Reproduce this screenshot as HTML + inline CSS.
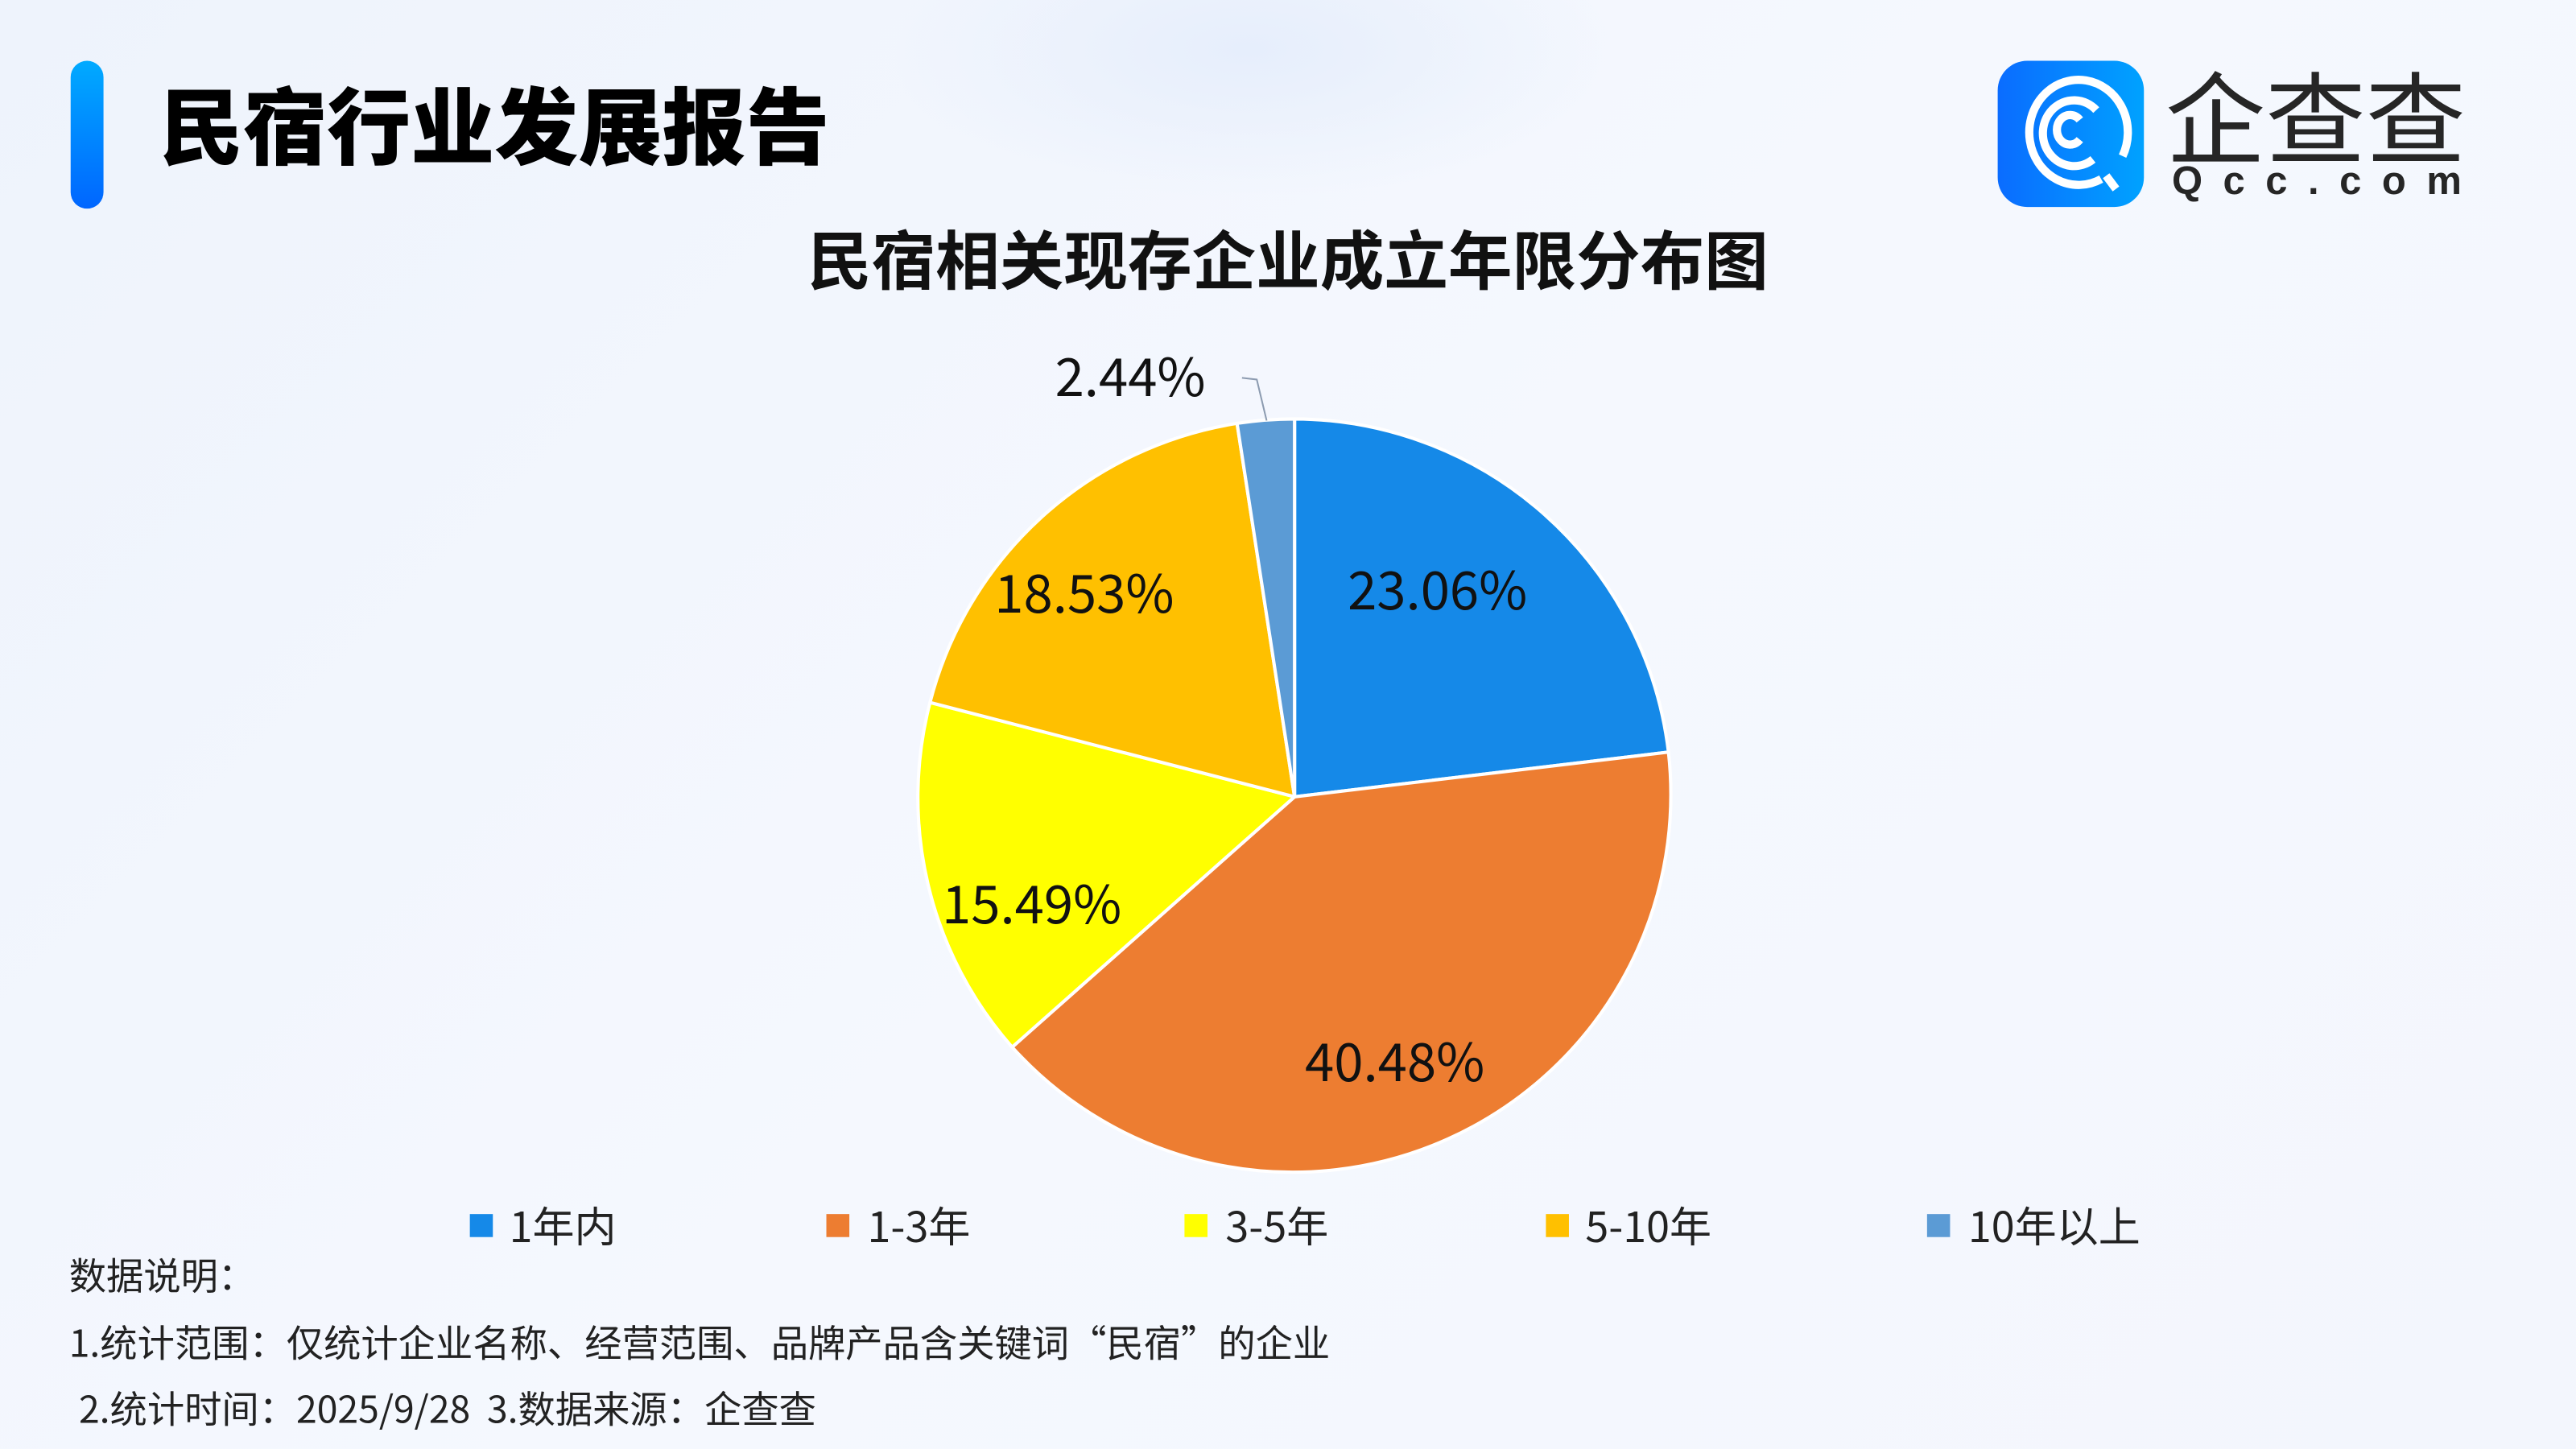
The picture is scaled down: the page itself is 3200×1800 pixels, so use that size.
<!DOCTYPE html>
<html><head><meta charset="utf-8"><style>
html,body{margin:0;padding:0;width:3200px;height:1800px;overflow:hidden;}
#w{position:absolute;left:0;top:0;width:1568px;height:882px;transform:scale(2.0408);transform-origin:0 0;
background:radial-gradient(ellipse 220px 90px at 760px 30px,#e6eefc 0%,rgba(230,238,252,0) 100%),linear-gradient(135deg,#eef3fc 0%,#f5f8fe 50%,#f3f6fd 100%);
font-family:"Noto Sans CJK SC","Liberation Sans",sans-serif;}
.a{position:absolute;white-space:nowrap;}
</style></head><body><div id="w">
<div class="a" style="left:43px;top:37px;width:20px;height:90px;border-radius:10px;background:linear-gradient(#00aaff,#0066ff);"></div>
<div class="a" style="left:97px;top:48px;font-size:51px;line-height:1.2;font-weight:900;color:#000;font-family:'Liberation Sans','Noto Sans CJK SC',sans-serif;">民宿行业发展报告</div>
<div class="a" style="left:1216px;top:37px;width:89px;height:89px;border-radius:18px;background:linear-gradient(90deg,#0a6cff,#00a2ff);"></div>
<svg class="a" style="left:1216px;top:37px" width="89" height="89" viewBox="0 0 89 89">
<g fill="none" stroke="#fff" stroke-width="5">
<path d="M63 72 A30 32 0 1 1 76 58"/>
<path d="M58 60 A19 20 0 1 1 60 30"/>
<path d="M50 48 A8 9 0 1 1 50 36"/>
<path d="M66 70 L72 78"/></g></svg>
<div class="a" style="left:1318px;top:37px;font-size:61px;line-height:64px;color:#262626;font-weight:400;">企查查</div>
<div class="a" style="left:1322px;top:98px;font-size:24px;line-height:26px;color:#262626;font-weight:700;letter-spacing:12.5px;font-family:'Liberation Sans',sans-serif;">Qcc.com</div>
<div class="a" style="left:0;width:1568px;top:132px;line-height:50px;text-align:center;font-size:39px;font-weight:700;color:#111;">民宿相关现存企业成立年限分布图</div>
<svg class="a" style="left:0;top:0" width="1568" height="882">
<g stroke="#fff" stroke-width="2" stroke-linejoin="round">
<path d="M788 485 L788 255 A230 230 0 0 1 1015.6 457.8 Z" fill="#1589e8"/>
<path d="M788 485 L1015.6 457.8 A230 230 0 0 1 616.1 637.4 Z" fill="#ed7d31"/>
<path d="M788 485 L616.1 637.4 A230 230 0 0 1 566.1 427.6 Z" fill="#ffff00"/>
<path d="M788 485 L566.1 427.6 A230 230 0 0 1 753.0 257.7 Z" fill="#ffc000"/>
<path d="M788 485 L753.0 257.7 A230 230 0 0 1 788 255 Z" fill="#5b9bd5"/>
</g>
<polyline points="756,230 765,231 771,256" fill="none" stroke="#8c9bb0" stroke-width="1"/>
<g font-family="Noto Sans CJK SC,Liberation Sans,sans-serif" font-size="32" fill="#111" text-anchor="middle">
<text x="875" y="371">23.06%</text>
<text x="849" y="658">40.48%</text>
<text x="628" y="562">15.49%</text>
<text x="660" y="373">18.53%</text>
<text x="688" y="241">2.44%</text>
</g>
<g font-family="Noto Sans CJK SC,Liberation Sans,sans-serif" font-size="25.5" fill="#222">
<rect x="286" y="739" width="14" height="14" fill="#1589e8"/><text x="310" y="756">1年内</text>
<rect x="503" y="739" width="14" height="14" fill="#ed7d31"/><text x="528" y="756">1-3年</text>
<rect x="721" y="739" width="14" height="14" fill="#ffff00"/><text x="746" y="756">3-5年</text>
<rect x="941" y="739" width="14" height="14" fill="#ffc000"/><text x="965" y="756">5-10年</text>
<rect x="1173" y="739" width="14" height="14" fill="#5b9bd5"/><text x="1198" y="756">10年以上</text>
</g>
</svg>
<div class="a" style="left:42px;top:761px;font-size:22.7px;line-height:30px;color:#222;">数据说明：</div>
<div class="a" style="left:42px;top:802px;font-size:22.7px;line-height:30px;color:#222;">1.统计范围：仅统计企业名称、经营范围、品牌产品含关键词“民宿”的企业</div>
<div class="a" style="left:48px;top:842px;font-size:22.7px;line-height:30px;color:#222;">2.统计时间：2025/9/28&nbsp; 3.数据来源：企查查</div>
</div></body></html>
